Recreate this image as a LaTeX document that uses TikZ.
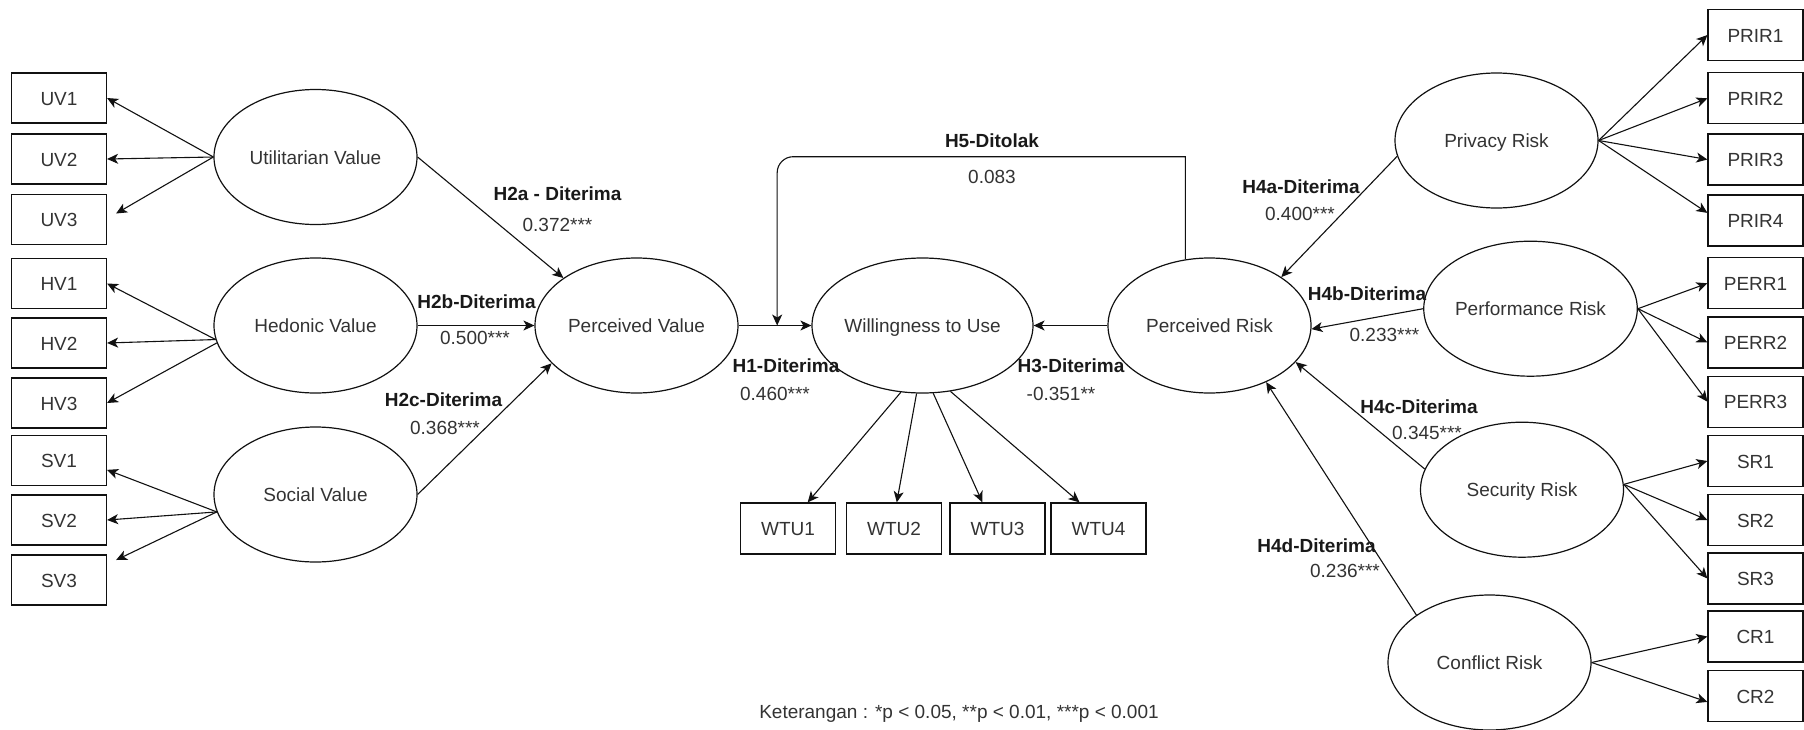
\documentclass[tikz,border=0pt]{standalone}
\usepackage{fontspec}
\setmainfont{Liberation Sans}
\usetikzlibrary{arrows.meta,shapes.geometric,calc}
\definecolor{cteks}{HTML}{333333}
\definecolor{cgaris}{HTML}{111111}
\tikzset{
  teks/.style={font=\fontsize{19}{23}\selectfont, text=cteks,
    text height=14pt, text depth=0pt, inner sep=0pt},
  elips/.style={ellipse, draw=cgaris, line width=1.2pt,
    minimum width=203pt, minimum height=135pt, teks},
  kotak/.style={rectangle, draw=cgaris, line width=1.2pt,
    minimum width=95pt, minimum height=50pt, teks},
  panah/.style={-{Stealth[length=11pt,width=10pt,inset=3pt]}, line width=1.1pt, draw=cgaris},
  hip/.style={teks, font=\fontsize{19}{23}\selectfont\bfseries, text=black!90},
  nilai/.style={teks},
}
\begin{document}
\begin{tikzpicture}[x=1pt,y=-1pt]
  \useasboundingbox (0,0) rectangle (1804,729);
  % indikator kiri
  \node[kotak] (UV1) at (59,98) {UV1};
  \node[kotak] (UV2) at (59,159) {UV2};
  \node[kotak] (UV3) at (59,219.5) {UV3};
  \node[kotak] (HV1) at (59,283.5) {HV1};
  \node[kotak] (HV2) at (59,343) {HV2};
  \node[kotak] (HV3) at (59,403) {HV3};
  \node[kotak] (SV1) at (59,460.5) {SV1};
  \node[kotak] (SV2) at (59,520) {SV2};
  \node[kotak] (SV3) at (59,580) {SV3};
  % konstruk
  \node[elips] (uv) at (315.5,157) {Utilitarian Value};
  \node[elips] (hv) at (315.5,325.5) {Hedonic Value};
  \node[elips] (sv) at (315.5,494.5) {Social Value};
  \node[elips] (pv) at (636.5,325.5) {Perceived Value};
  \node[elips] (wtu) at (922.5,325.5) {Willingness to Use};
  \node[elips] (pr) at (1209.5,325.5) {Perceived Risk};
  \node[elips] (priv) at (1496.5,140.5) {Privacy Risk};
  \node[elips] (perf) at (1530.5,308.7) {Performance Risk};
  \node[elips] (sec) at (1522,489.7) {Security Risk};
  \node[elips] (conf) at (1489.5,662.5) {Conflict Risk};
  % indikator WTU
  \node[kotak, minimum height=51pt] (WTU1) at (788,528.5) {WTU1};
  \node[kotak, minimum height=51pt] (WTU2) at (894,528.5) {WTU2};
  \node[kotak, minimum height=51pt] (WTU3) at (997.5,528.5) {WTU3};
  \node[kotak, minimum height=51pt] (WTU4) at (1098.5,528.5) {WTU4};
  % indikator kanan
  \node[kotak, minimum height=51pt] (PRIR1) at (1755.5,35) {PRIR1};
  \node[kotak, minimum height=51pt] (PRIR2) at (1755.5,98.3) {PRIR2};
  \node[kotak, minimum height=51pt] (PRIR3) at (1755.5,159.5) {PRIR3};
  \node[kotak, minimum height=51pt] (PRIR4) at (1755.5,220.5) {PRIR4};
  \node[kotak, minimum height=51pt] (PERR1) at (1755.5,283.3) {PERR1};
  \node[kotak, minimum height=51pt] (PERR2) at (1755.5,342.5) {PERR2};
  \node[kotak, minimum height=51pt] (PERR3) at (1755.5,401.7) {PERR3};
  \node[kotak, minimum height=51pt] (SR1) at (1755.5,461) {SR1};
  \node[kotak, minimum height=51pt] (SR2) at (1755.5,520) {SR2};
  \node[kotak, minimum height=51pt] (SR3) at (1755.5,578.5) {SR3};
  \node[kotak, minimum height=51pt] (CR1) at (1755.5,636.5) {CR1};
  \node[kotak, minimum height=51pt] (CR2) at (1755.5,696) {CR2};
  % loading kiri
  \draw[panah] (uv.west) -- (UV1.east);
  \draw[panah] (uv.west) -- (UV2.east);
  \draw[panah] (uv.west) -- ([shift={(9,-6)}]UV3.east);
  \draw[panah] (hv.188) -- (HV1.east);
  \draw[panah] (hv.188) -- (HV2.east);
  \draw[panah] (hv.190) -- (HV3.east);
  \draw[panah] (sv.190) -- (SV1.349);
  \draw[panah] (sv.190) -- (SV2.east);
  \draw[panah] (sv.190) -- ([shift={(9,-20)}]SV3.east);
  % jalur struktural
  \draw[panah] (uv.east) -- (pv.147);
  \draw[panah] (hv.east) -- (pv.west);
  \draw[panah] (sv.east) -- (pv.204);
  \draw[panah] (pv.east) -- (wtu.west);
  \draw[panah] (pr.west) -- (wtu.east);
  \coordinate (h5end) at ($(pv.east)!0.53!(wtu.west)$);
  \coordinate (h5bend) at ($(h5end)+(16,-168.8)$);
  \draw[panah] (pr.110) |- (h5bend) arc[start angle=90,end angle=180,radius=16pt] -- (h5end);
  \draw[panah] (priv.189) -- (pr.34);
  \draw[panah] (perf.west) -- (pr.358);
  \draw[panah] (sec.168) -- (pr.337);
  \draw[panah] (conf.147) -- (pr.315);
  % loading WTU
  \draw[panah] (wtu.252) -- (WTU1.53);
  \draw[panah] (wtu.265) -- (WTU2.84);
  \draw[panah] (wtu.279) -- (WTU3.120);
  \draw[panah] (wtu.293) -- (WTU4.126);
  % loading kanan
  \draw[panah] (priv.east) -- (PRIR1.west);
  \draw[panah] (priv.east) -- (PRIR2.west);
  \draw[panah] (priv.east) -- (PRIR3.west);
  \draw[panah] (priv.east) -- (PRIR4.171);
  \draw[panah] (perf.east) -- (PERR1.west);
  \draw[panah] (perf.east) -- (PERR2.west);
  \draw[panah] (perf.east) -- (PERR3.west);
  \draw[panah] (sec.3) -- (SR1.west);
  \draw[panah] (sec.3) -- (SR2.west);
  \draw[panah] (sec.3) -- (SR3.west);
  \draw[panah] (conf.east) -- (CR1.west);
  \draw[panah] (conf.east) -- (CR2.187);
  % label hipotesis
  \node[hip] (h2a) at (557.5,193) {H2a - Diterima};
  \node[nilai] (b2a) at (557.5,224) {0.372***};
  \node[hip] (h2b) at (476.5,301) {H2b-Diterima};
  \node[nilai] (b2b) at (475,337) {0.500***};
  \node[hip] (h2c) at (443.5,399) {H2c-Diterima};
  \node[nilai] (b2c) at (445,427) {0.368***};
  \node[hip] (h1) at (786,365.7) {H1-Diterima};
  \node[nilai] (b1) at (775,393) {0.460***};
  \node[hip] (h3) at (1071,365.7) {H3-Diterima};
  \node[nilai] (b3) at (1061,393) {-0.351**};
  \node[hip] (h5) at (992,140.7) {H5-Ditolak};
  \node[nilai] (b5) at (992,176) {0.083};
  \node[hip] (h4a) at (1301,186.7) {H4a-Diterima};
  \node[nilai] (b4a) at (1300,213) {0.400***};
  \node[hip] (h4b) at (1367,293) {H4b-Diterima};
  \node[nilai] (b4b) at (1384.5,334) {0.233***};
  \node[hip] (h4c) at (1419,406) {H4c-Diterima};
  \node[nilai] (b4c) at (1427,432.7) {0.345***};
  \node[hip] (h4d) at (1316.5,545.7) {H4d-Diterima};
  \node[nilai] (b4d) at (1345,570.7) {0.236***};
  \node[nilai] (ket) at (959,711.7) {Keterangan : *p < 0.05, **p < 0.01, ***p < 0.001};
\end{tikzpicture}
\end{document}
